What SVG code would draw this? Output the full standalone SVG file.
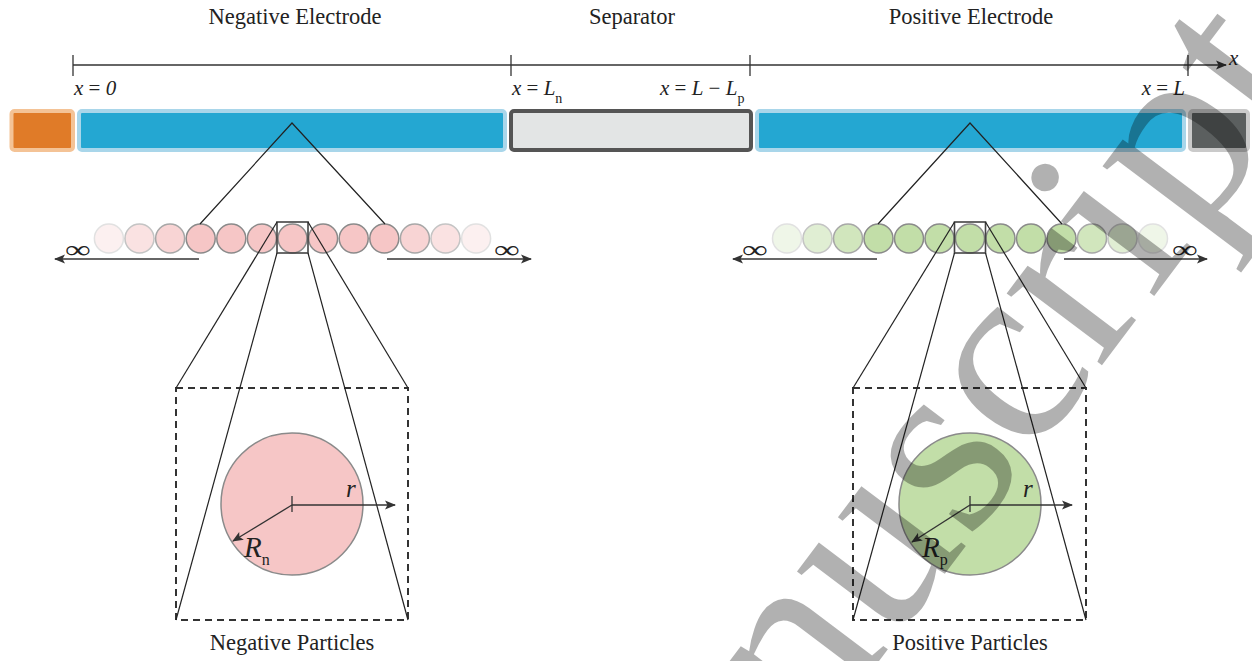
<svg xmlns="http://www.w3.org/2000/svg" width="1252" height="661" viewBox="0 0 1252 661">
<defs>
<marker id="arr" markerWidth="12" markerHeight="10" refX="10" refY="5" orient="auto" markerUnits="userSpaceOnUse">
<path d="M0,0.5 L11,5 L0,9.5 L2.5,5 z" fill="#333"/>
</marker>
<style>
.t{font-family:"Liberation Serif",serif;fill:#222;}
.title{font-size:22.5px;text-anchor:middle;}
.it{font-style:italic;}
.inf{font-family:"Liberation Serif",serif;fill:#222;font-size:25px;text-anchor:middle;}
.ln{stroke:#333;stroke-width:1.3;fill:none;}
.thin{stroke:#222;stroke-width:1.2;fill:none;}
.neg{fill:#f6c6c6;stroke:#8a8a8a;stroke-width:1.5;}
.pos{fill:#c2dea8;stroke:#8a8a8a;stroke-width:1.5;}
.sel{fill:none;stroke:#444;stroke-width:1.6;}
.dash{fill:none;stroke:#333;stroke-width:2;stroke-dasharray:7,5;}
.blue{fill:#24a7d2;stroke:#a9d6ea;stroke-width:4;}
</style>
</defs>
<rect width="1252" height="661" fill="#fff"/>

<g id="titles">
<text class="t title" x="295" y="24">Negative Electrode</text>
<text class="t title" x="632" y="24">Separator</text>
<text class="t title" x="971" y="24">Positive Electrode</text>
</g>

<g id="axis">
<line class="ln" x1="73" y1="65" x2="1226" y2="65" marker-end="url(#arr)"/>
<line class="ln" x1="73" y1="55" x2="73" y2="76"/>
<line class="ln" x1="511" y1="55" x2="511" y2="76"/>
<line class="ln" x1="750" y1="55" x2="750" y2="76"/>
<line class="ln" x1="1188" y1="55" x2="1188" y2="76"/>
<text class="t it" x="1229" y="65" font-size="21">x</text>
<text class="t" x="74" y="95" font-size="21"><tspan class="it">x</tspan> = <tspan class="it">0</tspan></text>
<text class="t" x="512" y="95" font-size="21"><tspan class="it">x</tspan> = <tspan class="it">L</tspan><tspan font-size="14" dy="8">n</tspan></text>
<text class="t" x="660" y="95" font-size="21"><tspan class="it">x</tspan> = <tspan class="it">L</tspan> − <tspan class="it">L</tspan><tspan font-size="14" dy="8">p</tspan></text>
<text class="t" x="1185" y="95" font-size="21" text-anchor="end"><tspan class="it">x</tspan> = <tspan class="it">L</tspan></text>
</g>

<g id="cell">
<rect id="cc-neg" x="11.5" y="111" width="61.5" height="39" rx="3" fill="#e07b28" stroke="#f4c396" stroke-width="4"/>
<rect id="electrode-neg" class="blue" x="79" y="111" width="426" height="39" rx="3"/>
<rect id="separator" x="511" y="111" width="240" height="39" rx="3" fill="#e3e5e5" stroke="#555" stroke-width="4"/>
<rect id="electrode-pos" class="blue" x="757" y="111" width="427" height="39" rx="3"/>
<rect id="cc-pos" x="1190" y="111" width="58" height="39" rx="3" fill="#5b5f5f" stroke="#cacaca" stroke-width="4"/>
</g>

<g id="neg-row">
<circle class="neg" cx="108.9" cy="238.5" r="14.5" opacity="0.25"/>
<circle class="neg" cx="139.5" cy="238.5" r="14.5" opacity="0.5"/>
<circle class="neg" cx="170.1" cy="238.5" r="14.5" opacity="0.75"/>
<circle class="neg" cx="200.7" cy="238.5" r="14.5"/>
<circle class="neg" cx="231.3" cy="238.5" r="14.5"/>
<circle class="neg" cx="261.9" cy="238.5" r="14.5"/>
<circle class="neg" cx="292.5" cy="238.5" r="14.5"/>
<circle class="neg" cx="323.1" cy="238.5" r="14.5"/>
<circle class="neg" cx="353.7" cy="238.5" r="14.5"/>
<circle class="neg" cx="384.3" cy="238.5" r="14.5"/>
<circle class="neg" cx="414.9" cy="238.5" r="14.5" opacity="0.75"/>
<circle class="neg" cx="445.5" cy="238.5" r="14.5" opacity="0.5"/>
<circle class="neg" cx="476.1" cy="238.5" r="14.5" opacity="0.25"/>
<rect class="sel" x="277" y="222" width="31" height="31"/>
<text class="inf" transform="translate(78 258) scale(1.45 1)">∞</text>
<text class="inf" transform="translate(507 258) scale(1.45 1)">∞</text>
</g>

<g id="pos-row">
<circle class="pos" cx="787" cy="238.5" r="14.5" opacity="0.25"/>
<circle class="pos" cx="817.5" cy="238.5" r="14.5" opacity="0.5"/>
<circle class="pos" cx="848" cy="238.5" r="14.5" opacity="0.75"/>
<circle class="pos" cx="878.5" cy="238.5" r="14.5"/>
<circle class="pos" cx="909" cy="238.5" r="14.5"/>
<circle class="pos" cx="939.5" cy="238.5" r="14.5"/>
<circle class="pos" cx="970" cy="238.5" r="14.5"/>
<circle class="pos" cx="1000.5" cy="238.5" r="14.5"/>
<circle class="pos" cx="1031" cy="238.5" r="14.5"/>
<circle class="pos" cx="1061.5" cy="238.5" r="14.5"/>
<circle class="pos" cx="1092" cy="238.5" r="14.5" opacity="0.75"/>
<circle class="pos" cx="1122.5" cy="238.5" r="14.5" opacity="0.5"/>
<circle class="pos" cx="1153" cy="238.5" r="14.5" opacity="0.25"/>
<rect class="sel" x="954.5" y="222" width="31" height="31"/>
<text class="inf" transform="translate(755 258) scale(1.45 1)">∞</text>
<text class="inf" transform="translate(1185 258) scale(1.45 1)">∞</text>
</g>

<g id="neg-particle">
<rect class="dash" x="176" y="388" width="232" height="232"/>
<circle class="neg" cx="292" cy="504" r="71"/>
<line class="ln" x1="292" y1="496" x2="292" y2="512"/>
<text class="t it" x="346" y="497" font-size="25">r</text>
<text class="t" x="244" y="557" font-size="29"><tspan class="it">R</tspan><tspan font-size="16" dy="8">n</tspan></text>
<text class="t title" x="292" y="650">Negative Particles</text>
</g>

<g id="pos-particle">
<rect class="dash" x="853" y="388" width="233" height="232"/>
<circle class="pos" cx="970" cy="504" r="71"/>
<line class="ln" x1="970" y1="496" x2="970" y2="512"/>
<text class="t it" x="1023" y="497" font-size="25">r</text>
<text class="t" x="922" y="557" font-size="29"><tspan class="it">R</tspan><tspan font-size="16" dy="8">p</tspan></text>
<text class="t title" x="970" y="650">Positive Particles</text>
</g>

<g id="connectors">
<polyline class="thin" points="200,224 292,123 385,224"/>
<polyline class="thin" points="878,224 970,123 1062,224"/>
<line class="ln" x1="199" y1="259" x2="55" y2="259" marker-end="url(#arr)"/>
<line class="ln" x1="387" y1="259" x2="531" y2="259" marker-end="url(#arr)"/>
<line class="ln" x1="877" y1="259" x2="733" y2="259" marker-end="url(#arr)"/>
<line class="ln" x1="1064" y1="259" x2="1207" y2="259" marker-end="url(#arr)"/>
<line class="thin" x1="277" y1="222" x2="176" y2="388"/>
<line class="thin" x1="308" y1="222" x2="408" y2="388"/>
<line class="thin" x1="277" y1="253" x2="176" y2="620"/>
<line class="thin" x1="308" y1="253" x2="408" y2="620"/>
<line class="thin" x1="954.5" y1="222" x2="853" y2="388"/>
<line class="thin" x1="985.5" y1="222" x2="1086" y2="388"/>
<line class="thin" x1="954.5" y1="253" x2="853" y2="620"/>
<line class="thin" x1="985.5" y1="253" x2="1086" y2="620"/>
<line class="ln" x1="292" y1="505" x2="395" y2="505" marker-end="url(#arr)"/>
<line class="ln" x1="292" y1="505" x2="233" y2="541" marker-end="url(#arr)"/>
<line class="ln" x1="970" y1="505" x2="1072" y2="505" marker-end="url(#arr)"/>
<line class="ln" x1="970" y1="505" x2="912" y2="542" marker-end="url(#arr)"/>
</g>

<g id="watermark">
<text x="812" y="750" transform="rotate(-53 812 750)" font-family="Liberation Serif, serif" font-size="260" fill="#000" opacity="0.3">nuscript</text>
</g>
</svg>
